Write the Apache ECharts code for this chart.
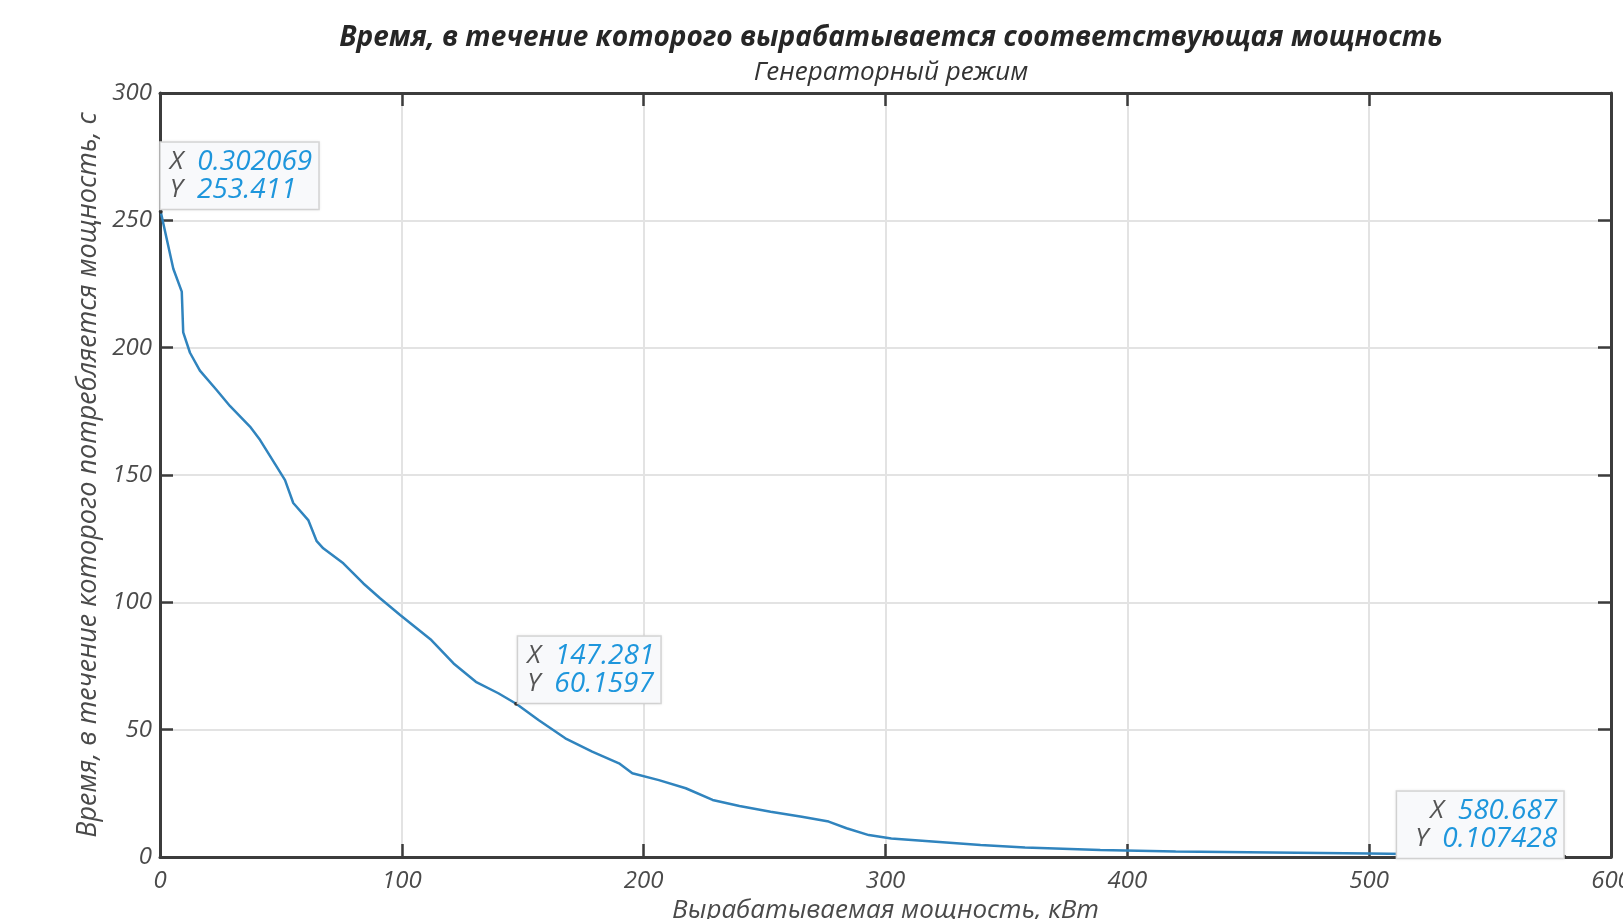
<!DOCTYPE html>
<html>
<head>
<meta charset="utf-8">
<script src="https://cdn.jsdelivr.net/npm/echarts@6/dist/echarts.min.js"></script>
<style>
  html, body { margin: 0; padding: 0; background: #fff; }
  #chart { width: 1623px; height: 919px; }
</style>
</head>
<body>
<div id="chart"></div>
<script>
// Generated power, kW
const powerKW = [
  0.302069, 5.5, 9.0, 9.6, 12.4, 16.5, 23.4, 29.0, 37.2, 41.4, 48.3, 51.7,
  55.1, 61.3, 64.8, 67.5, 75.8, 84.1, 91.0, 99.3, 112.2, 121.4, 130.6, 139.9,
  147.281, 156.5, 167.6, 178.7, 189.8, 195.3, 206.3, 217.4, 228.5, 239.6,
  252.5, 265.4, 276.5, 283.9, 293.1, 302.4, 320.8, 339.3, 357.7, 388.8,
  420, 460, 500, 540, 580.687
];
// Time during which that power is produced, s
const durationS = [
  253.411, 231, 222, 206, 198, 191, 183.4, 177, 169, 163.7, 153.2, 148,
  139, 132.3, 124, 121.2, 115.3, 107.4, 101.6, 95, 85.2, 76, 68.8, 64.3,
  60.1597, 53.8, 46.6, 41.4, 36.8, 32.9, 30.2, 27, 22.4, 20,
  17.8, 15.8, 13.9, 11.3, 8.6, 7.3, 6, 4.7, 3.7, 2.7,
  2.2, 1.8, 1.4, 0.9, 0.107428
];
// Data tips
const tipX = [0.302069, 147.281, 580.687];
const tipY = [253.411, 60.1597, 0.107428];
const tipText = ['0.302069', '147.281', '580.687'];
const tipTextY = ['253.411', '60.1597', '0.107428'];

const titleText = 'Время, в течение которого вырабатывается соответствующая мощность';
const subtitleText = 'Генераторный режим';
const xName = 'Вырабатываемая мощность, кВт';
const yName = 'Время, в течение которого потребляется мощность, с';

const FONT = "'Open Sans', 'DejaVu Sans', sans-serif";
const axisDark = '#3c3c3c';
const labelGray = '#4a4a4a';

const seriesData = powerKW.map((x, i) => [x, durationS[i]]);

// Data tip box: key letter in grey, value in blue
function tipPoint(i, rightSide, pos) {
  const al = rightSide ? 'right' : 'left';
  return {
    coord: [tipX[i], tipY[i]],
    label: {
      show: true,
      position: pos,
      align: al,
      verticalAlign: 'bottom',
      backgroundColor: '#f8f9fb',
      borderColor: '#d6d6d6',
      borderWidth: 1.5,
      padding: rightSide ? [5, 6, 5, 18] : [5, 6, 5, 9],
      shadowColor: 'rgba(0,0,0,0.08)',
      shadowBlur: 3,
      formatter: '{k|X}{v|' + tipText[i] + '}\n{k|Y}{v|' + tipTextY[i] + '}',
      rich: {
        k: { color: '#555', fontSize: 26, fontStyle: 'italic', fontFamily: FONT, lineHeight: 28,
             padding: [0, 14, 0, 0], align: al },
        v: { color: '#1e96dc', fontSize: 28, fontStyle: 'italic', fontFamily: FONT, lineHeight: 28, align: al }
      }
    }
  };
}

const chart = echarts.init(document.getElementById('chart'), null, { renderer: 'canvas' });

const baseAxis = {
  type: 'value',
  axisLine: { show: true, onZero: false, lineStyle: { color: axisDark, width: 3 } },
  axisTick: { show: true, inside: true, length: 13, lineStyle: { color: axisDark, width: 2.5 } }
};

chart.setOption({
  backgroundColor: '#ffffff',
  animation: false,
  title: {
    text: titleText,
    subtext: subtitleText,
    left: 886,
    top: 19,
    textAlign: 'center',
    itemGap: 8,
    textStyle: { fontFamily: FONT, fontStyle: 'italic', fontWeight: 'bold', fontSize: 28, color: '#262626' },
    subtextStyle: { fontFamily: FONT, fontStyle: 'italic', fontWeight: 'normal', fontSize: 26, color: '#333' }
  },
  grid: { left: 160, right: 12, top: 93, bottom: 62, containLabel: false, outerBoundsMode: 'none' },
  xAxis: [
    Object.assign({}, baseAxis, {
      position: 'bottom', min: 0, max: 600, interval: 100,
      name: xName, nameLocation: 'middle', nameGap: 38,
      nameTextStyle: { fontFamily: FONT, fontStyle: 'italic', fontSize: 26, color: labelGray },
      axisLabel: { show: true, margin: 12, showMinLabel: true, showMaxLabel: true,
        fontFamily: FONT, fontStyle: 'italic', fontSize: 24, color: labelGray },
      splitLine: { show: true, lineStyle: { color: '#e3e3e3', width: 2 } }
    }),
    Object.assign({}, baseAxis, {
      position: 'top', min: 0, max: 600, interval: 100,
      axisLabel: { show: false }, splitLine: { show: false }
    })
  ],
  yAxis: [
    Object.assign({}, baseAxis, {
      position: 'left', min: 0, max: 300, interval: 50,
      name: yName, nameLocation: 'middle', nameGap: 58, nameRotate: 90,
      nameTextStyle: { fontFamily: FONT, fontStyle: 'italic', fontSize: 27, color: labelGray },
      axisLabel: { show: true, margin: 8, showMinLabel: true, showMaxLabel: true,
        fontFamily: FONT, fontStyle: 'italic', fontSize: 24, color: labelGray },
      splitLine: { show: true, lineStyle: { color: '#e3e3e3', width: 2 } }
    }),
    Object.assign({}, baseAxis, {
      position: 'right', min: 0, max: 300, interval: 50,
      axisLabel: { show: false }, splitLine: { show: false }
    })
  ],
  series: [{
    type: 'line',
    data: seriesData,
    xAxisIndex: 0,
    yAxisIndex: 0,
    showSymbol: false,
    smooth: false,
    lineStyle: { color: '#3084be', width: 2.5 },
    markPoint: {
      symbol: 'circle',
      symbolSize: 4,
      itemStyle: { color: '#333' },
      data: [tipPoint(0, false, [2, -1]), tipPoint(1, false, [4, 1]), tipPoint(2, true, [1, 3])]
    }
  }]
});
</script>
</body>
</html>
